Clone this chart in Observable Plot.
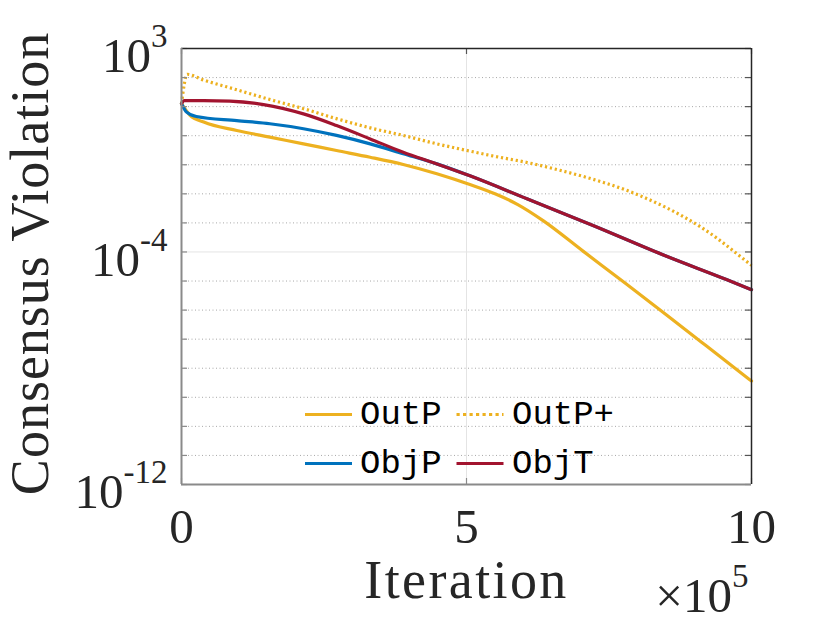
<!DOCTYPE html>
<html><head><meta charset="utf-8">
<script src="https://cdn.jsdelivr.net/npm/d3@7"></script>
<script src="https://cdn.jsdelivr.net/npm/@observablehq/plot@0.6"></script>
<style>body{margin:0;background:#fff;} svg{display:block;}</style>
</head><body><div id="chart"></div>
<script>
// ---- data (x in units of 1e5 iterations) ----
const seriesNames = ["OutP", "OutP+", "ObjP", "ObjT"];
const seriesColors = ["#EDB120", "#EDB120", "#0072BD", "#A2142F"];

const iterOutP = [0, 0.15, 0.39, 0.97, 1.55, 2.14, 2.72, 3.31, 3.89, 4.48, 5.06, 5.5, 5.9, 6.35, 7.05, 7.81, 8.51, 9.2, 10];
const valOutP  = [12.59, 5.012, 2.951, 1.514, 0.8913, 0.5248, 0.3090, 0.1820, 0.1023, 0.04898, 0.02089, 0.01, 0.004266, 1.175e-3, 1.047e-4, 7.762e-6, 6.761e-7, 6.026e-8, 3.631e-9];

const iterOutPplus = [0, 0.1, 0.38, 0.97, 1.56, 2.14, 2.73, 3.31, 3.89, 4.48, 5.06, 5.47, 6.06, 6.64, 7.22, 7.81, 8.04, 8.51, 9.10, 9.39, 9.68, 10];
const valOutPplus  = [12.59, 128.8, 83.18, 38.02, 17.38, 8.511, 3.802, 1.862, 1.023, 0.5248, 0.2951, 0.1995, 0.1202, 0.06457, 0.03162, 0.01318, 0.00871, 0.003311, 7.413e-4, 3.02e-4, 1.096e-4, 3.467e-5];

const iterObjP = [0, 0.09, 0.26, 0.97, 1.55, 2.14, 2.72, 3.31, 3.89, 4.48, 5.06, 6.06, 7.22, 8.51, 9.56, 10];
const valObjP  = [12.59, 6.457, 4.571, 3.311, 2.570, 1.738, 1.023, 0.5248, 0.2399, 0.1072, 0.04169, 6.761e-3, 8.128e-4, 7.079e-5, 1.122e-5, 5.012e-6];

const iterObjT = [0, 0.05, 0.39, 0.85, 1.44, 2.14, 2.72, 3.31, 3.89, 4.48, 5.06, 6.06, 7.22, 8.51, 9.56, 10];
const valObjT  = [12.59, 16.22, 16.22, 15.49, 11.75, 5.623, 2.239, 0.7762, 0.2692, 0.1072, 0.04169, 6.761e-3, 8.128e-4, 7.079e-5, 1.122e-5, 5.012e-6];

// ---- axes ----
const yDecades = [1e-12, 1e-11, 1e-10, 1e-9, 1e-8, 1e-7, 1e-6, 1e-5, 1e-4, 1e-3, 1e-2, 1e-1, 1e0, 1e1, 1e2, 1e3];
const yMinorGrid = [1e-11, 1e-10, 1e-9, 1e-8, 1e-7, 1e-6, 1e-5, 1e-3, 1e-2, 1e-1, 1e0, 1e1, 1e2];
const yMajorGrid = [1e-4];
const xMajorGrid = [5];
const yTickValues = [1e3, 1e-4, 1e-12];
const yTickLabels = ["10^3", "10^-4", "10^-12"];
const xTickValues = [0, 5, 10];
const xTickLabels = ["0", "5", "10"];
const xLabel = "Iteration";
const yLabel = "Consensus Violation";
const xExponentLabel = "\u00d710^5";

const rows = (name, xs, ys) => xs.map((x, i) => ({series: name, x, y: ys[i]}));
const dOutP = rows("OutP", iterOutP, valOutP);
const dOutPplus = rows("OutP+", iterOutPplus, valOutPplus);
const dObjP = rows("ObjP", iterObjP, valObjP);
const dObjT = rows("ObjT", iterObjT, valObjT);

const W = 830, H = 623;
const mL = 181, mR = 79, mT = 48, mB = 139;
const fw = W - mL - mR, fh = H - mT - mB;
const serif = "'Liberation Serif', 'Times New Roman', serif";
const txt = "#262626";
const LW = 3.2;

const svg = Plot.plot({
  width: W, height: H,
  marginLeft: mL, marginRight: mR, marginTop: mT, marginBottom: mB,
  style: {fontFamily: serif, background: "#fff", overflow: "visible"},
  x: {domain: [0, 10], axis: null},
  y: {type: "log", domain: [1e-12, 1e3], axis: null},
  marks: [
    Plot.ruleY(yMinorGrid, {stroke: "#a8a8a8", strokeDasharray: "1,2.5", strokeWidth: 1}),
    Plot.ruleY(yMajorGrid, {stroke: "#e4e4e4", strokeWidth: 1}),
    Plot.ruleX(xMajorGrid, {stroke: "#e4e4e4", strokeWidth: 1}),
    Plot.line(dOutP, {x: "x", y: "y", stroke: seriesColors[0], strokeWidth: LW, curve: "monotone-x"}),
    Plot.line(dOutPplus, {x: "x", y: "y", stroke: seriesColors[1], strokeWidth: LW, strokeDasharray: "2.2,2.8", strokeLinecap: "butt", curve: "monotone-x"}),
    Plot.line(dObjP, {x: "x", y: "y", stroke: seriesColors[2], strokeWidth: LW, curve: "monotone-x"}),
    Plot.line(dObjT, {x: "x", y: "y", stroke: seriesColors[3], strokeWidth: LW, curve: "monotone-x"}),
    // ticks (inward)
    Plot.ruleY(yDecades, {stroke: "#8a8a8a", strokeWidth: 1.2, insetRight: fw - 6}),
    Plot.ruleY(yDecades, {stroke: "#555", strokeWidth: 1.2, insetLeft: fw - 6}),
    Plot.ruleX(xTickValues, {stroke: "#8a8a8a", strokeWidth: 1.2, insetTop: fh - 6}),
    Plot.ruleX(xTickValues, {stroke: "#555", strokeWidth: 1.2, insetBottom: fh - 6}),
    // box
    Plot.ruleY([1e3], {stroke: "#262626", strokeWidth: 1.5}),
    Plot.ruleX([10], {stroke: "#262626", strokeWidth: 1.5}),
    Plot.ruleX([0], {stroke: "#8a8a8a", strokeWidth: 2}),
    Plot.ruleY([1e-12], {stroke: "#8a8a8a", strokeWidth: 2}),
    // tick labels
    Plot.text(yTickValues, {y: d => d, text: d => yTickLabels[yTickValues.indexOf(d)], frameAnchor: "left",
      textAnchor: "end", lineAnchor: "middle", dx: -14, dy: 8, fontSize: 49, fill: txt}),
    Plot.text(xTickValues, {x: d => d, text: d => xTickLabels[xTickValues.indexOf(d)], frameAnchor: "bottom",
      textAnchor: "middle", lineAnchor: "middle", dy: 43, fontSize: 49, fill: txt}),
    // axis labels
    Plot.text([xLabel], {text: d => d, frameAnchor: "bottom", textAnchor: "middle", lineAnchor: "middle", dy: 96, fontSize: 54, fill: txt}),
    Plot.text([yLabel], {text: d => d, frameAnchor: "left", textAnchor: "middle", rotate: -90, lineAnchor: "middle", dx: -151, dy: -3, fontSize: 54, fill: txt}),
    Plot.text([xExponentLabel], {text: d => d, frameAnchor: "bottom-right", textAnchor: "end", lineAnchor: "middle", dx: -3, dy: 112, fontSize: 49, fill: txt})
  ]
});

// superscripts "a^b"
d3.select(svg).selectAll("text").each(function () {
  const t = this.textContent;
  if (t.includes("^")) {
    const [base, sup] = t.split("^");
    const sel = d3.select(this);
    sel.text(null);
    sel.append("tspan").text(base);
    sel.append("tspan").attr("font-size", 33).attr("dy", -25).text(sup);
  }
  if (t === xLabel) d3.select(this).style("letter-spacing", "2.4px");
  if (t === yLabel) d3.select(this).style("letter-spacing", "1px");
});

// legend
const leg = d3.select(svg).append("g").attr("font-family", "'Liberation Mono', 'DejaVu Sans Mono', monospace")
  .attr("font-size", 34).attr("fill", "#000").attr("text-anchor", "start");
const legPos = [
  {lx: 305, ly: 414.5, tx: 360, ty: 423.5},
  {lx: 456.5, ly: 414.5, tx: 512, ty: 423.5},
  {lx: 305, ly: 463.5, tx: 360, ty: 472.5},
  {lx: 456.5, ly: 463.5, tx: 512, ty: 472.5}
];
seriesNames.forEach((name, i) => {
  const p = legPos[i];
  leg.append("line").attr("x1", p.lx).attr("x2", p.lx + 47).attr("y1", p.ly).attr("y2", p.ly)
    .attr("stroke", seriesColors[i]).attr("stroke-width", LW)
    .attr("stroke-dasharray", name === "OutP+" ? "3.2,3.3" : null);
  leg.append("text").attr("x", p.tx).attr("y", p.ty).attr("text-anchor", "start").text(name);
});

document.getElementById("chart").appendChild(svg);
</script>
</body></html>
